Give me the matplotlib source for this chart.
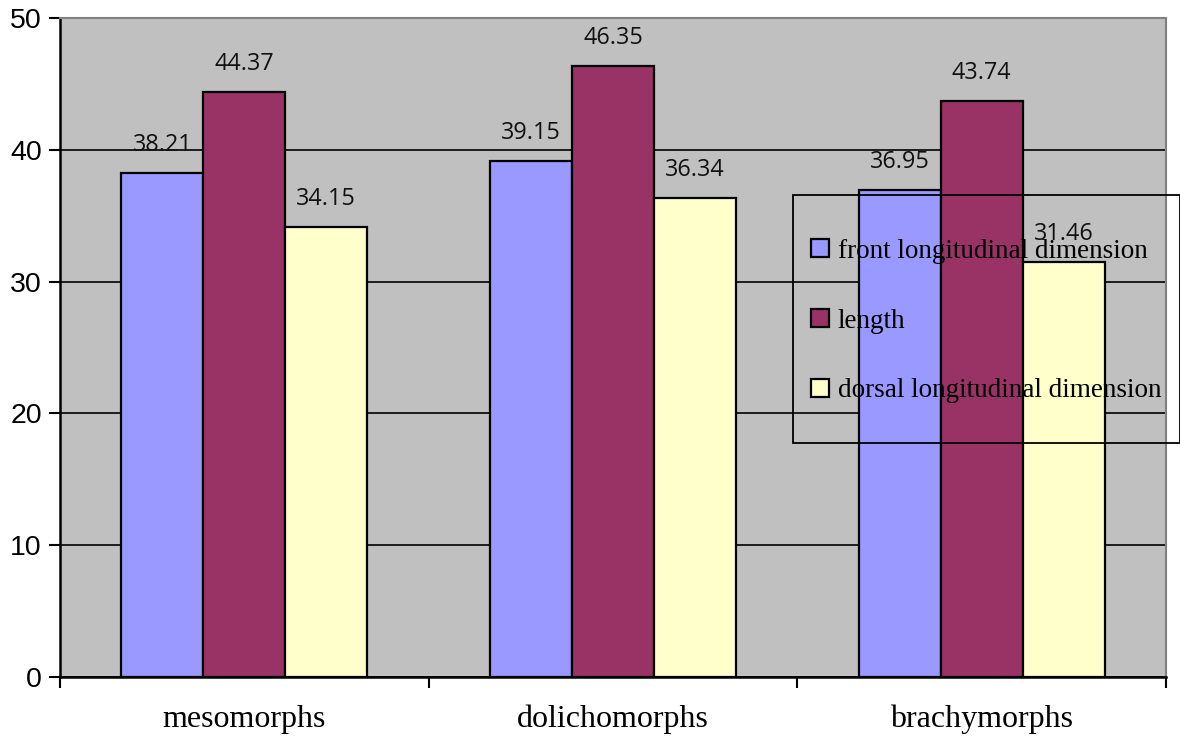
import matplotlib
matplotlib.use("Agg")
import matplotlib.pyplot as plt
from matplotlib.patches import Rectangle
import numpy as np

categories = ["mesomorphs", "dolichomorphs", "brachymorphs"]
series_names = ["front longitudinal dimension", "length", "dorsal longitudinal dimension"]
front = [38.21, 39.15, 36.95]
length = [44.37, 46.35, 43.74]
dorsal = [34.15, 36.34, 31.46]
yticks = [0, 10, 20, 30, 40, 50]

colors = ["#9999FF", "#993366", "#FFFFCC"]

W, H = 1180, 738
fig = plt.figure(figsize=(W / 100, H / 100), dpi=100)
fig.patch.set_facecolor("white")
ax = fig.add_axes([60 / W, 1 - 677 / H, (1166 - 60) / W, (677 - 18) / H])
ax.set_facecolor("#C0C0C0")

x = np.arange(len(categories))
bw = 2 / 9
for i, (vals, name, c) in enumerate(zip([front, length, dorsal], series_names, colors)):
    bars = ax.bar(x + (i - 1) * bw, vals, width=bw, color=c, edgecolor="black",
                  linewidth=1.6, label=name, zorder=3)
    for b, v in zip(bars, vals):
        ax.annotate(f"{v:.2f}", (b.get_x() + b.get_width() / 2, v),
                    xytext=(0, 15.8), textcoords="offset points",
                    ha="center", va="baseline", fontsize=16.8,
                    family="Open Sans", color="#111111", zorder=5)

ax.set_xlim(-0.5, 2.5)
ax.set_ylim(0, 50)
ax.set_yticks(yticks)
ax.set_yticklabels([str(t) for t in yticks], fontsize=20.5, family="Liberation Sans")
ax.yaxis.grid(True, color="black", linewidth=1.2, zorder=1)
ax.set_axisbelow(True)

ax.set_xticks([-0.5, 0.5, 1.5, 2.5])
ax.set_xticklabels([])
ax.set_xticks(x, minor=True)
ax.set_xticklabels(categories, minor=True, fontsize=23, family="Liberation Serif")
ax.tick_params(axis="x", which="minor", length=0, pad=20)
ax.tick_params(axis="x", which="major", length=8, width=1.5, color="black", direction="out")
ax.tick_params(axis="y", length=8, width=1.5, direction="out", pad=5)

for s in ["left", "bottom"]:
    ax.spines[s].set_color("black")
    ax.spines[s].set_linewidth(1.8)
for s in ["top", "right"]:
    ax.spines[s].set_color("#808080")
    ax.spines[s].set_linewidth(1.5)

# legend frame (extends beyond axes)
rect = Rectangle((793 / W, 1 - 443 / H), (1180 - 793) / W, (443 - 195) / H,
                 transform=fig.transFigure, facecolor="none", edgecolor="black",
                 linewidth=1.3, zorder=10)
fig.patches.append(rect)

leg = fig.legend(loc="center left", bbox_to_anchor=(811 / W, 1 - 321 / H),
                 frameon=False, borderpad=0, borderaxespad=0,
                 prop={"family": "Liberation Serif", "size": 19.5},
                 handlelength=0.68, handleheight=0.68, handletextpad=0.3,
                 labelspacing=1.66)
for h in leg.legend_handles:
    h.set_edgecolor("black")
    h.set_linewidth(1.6)

fig.savefig("out.png", dpi=100)
